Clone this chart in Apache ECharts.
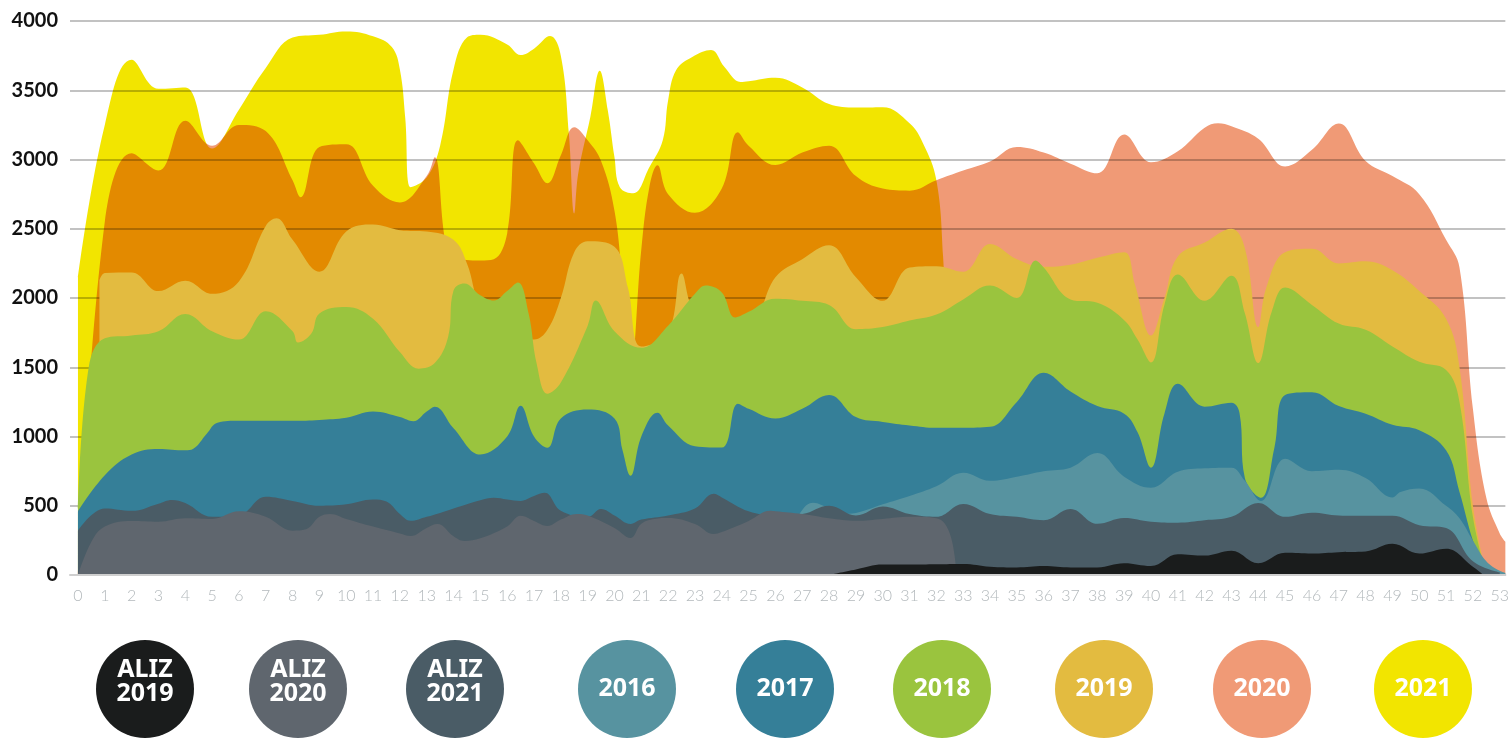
<!DOCTYPE html>
<html>
<head>
<meta charset="utf-8">
<script src="https://cdn.jsdelivr.net/npm/echarts@6/dist/echarts.min.js"></script>
<style>
html,body{margin:0;padding:0;background:#fff;}
#c{width:1512px;height:738px;}
</style>
</head>
<body>
<div id="c"></div>
<script>
// ---- categories / ticks ----
const weeks = Array.from({length: 54}, (_, i) => i);
const yTicks = [0, 500, 1000, 1500, 2000, 2500, 3000, 3500, 4000];
const legendNames = ['ALIZ 2019', 'ALIZ 2020', 'ALIZ 2021', '2016', '2017', '2018', '2019', '2020', '2021'];

// ---- series values: [week, value] ----
const s2021 = [[0,2150],[1,3250],[2,3720],[3,3510],[4,3520],[5,3080],[6,3360],[7,3660],[8,3880],[9,3900],[10,3925],[11,3890],[11.7,3812],[12,3650],[12.2,3300],[12.4,2800],[13,2870],[13.5,3100],[14,3650],[14.5,3880],[15,3900],[16,3830],[16.5,3754],[17,3800],[17.6,3891],[18,3750],[18.3,3190],[18.5,2611],[18.65,2900],[19.1,3306],[19.45,3640],[19.75,3356],[20,3016],[20.2,2800],[20.7,2756],[21.3,2944],[21.8,3139],[22,3428],[22.3,3646],[22.9,3740],[23.6,3790],[24.1,3667],[24.7,3560],[25,3565],[26,3590],[27,3520],[28,3400],[29,3375],[30,3378],[31,3262],[31.5,3118],[32,2850],[32.25,2300],[32.5,1200],[33,0]];
const s2020 = [[0,0],[1,2550],[2,3045],[3,2920],[4,3280],[5,3100],[6,3250],[7,3205],[8,2850],[8.3,2727],[9,3090],[10,3110],[11,2810],[12,2690],[13,2880],[13.3,3016],[13.7,2400],[14,2300],[15,2271],[15.5,2280],[16,2466],[16.4,3139],[17,2973],[17.5,2828],[18,3030],[18.5,3233],[19,3139],[19.5,2990],[20,2630],[20.3,2100],[20.6,1450],[21,2350],[21.3,2800],[21.6,2958],[22,2750],[23,2615],[24,2790],[24.6,3197],[25,3100],[26,2960],[27,3050],[28,3100],[29,2880],[30,2790],[31,2775],[32,2850],[33,2920],[34,2985],[35,3090],[36,3050],[37,2970],[38,2900],[39,3180],[40,2980],[41,3060],[42,3230],[42.5,3262],[43,3240],[44,3150],[45,2950],[46,3070],[47,3260],[48,2990],[49,2880],[50,2750],[51,2420],[51.5,2220],[52,1200],[52.5,557],[53,300],[53.21,240]];
const s2019 = [[0.8,2127],[1,2180],[2,2185],[3,2050],[4,2125],[5,2030],[6,2120],[7,2520],[7.4,2575],[8,2420],[9,2190],[10,2480],[11,2530],[12,2490],[13,2480],[14,2420],[14.5,2250],[15,1950],[16,1750],[17,1700],[17.5,1770],[18,2000],[18.5,2330],[19,2410],[20,2370],[20.5,2076],[21,1650],[22,1750],[22.5,2177],[23,1900],[24,1850],[25,1800],[26,2150],[27,2280],[28,2380],[29,2150],[30,1980],[31,2220],[32,2230],[33,2190],[34,2390],[35,2280],[36,2225],[37,2240],[38,2290],[39,2330],[39.4,2100],[40,1730],[40.5,2000],[41,2300],[42,2400],[43,2500],[43.5,2360],[44,1790],[44.3,2076],[45,2330],[46,2355],[47,2250],[48,2265],[49,2200],[50,2050],[51,1850],[51.5,1500],[52,500],[52.5,0]];
const s2018 = [[0,480],[0.4,1500],[1,1710],[2,1730],[3,1760],[4,1885],[5,1760],[6,1700],[7,1905],[8,1760],[8.2,1678],[8.7,1743],[9,1888],[10,1935],[11,1850],[12,1610],[12.7,1490],[13.3,1530],[13.8,1720],[14,2054],[14.4,2105],[15,2020],[15.5,1982],[16,2050],[16.4,2112],[16.8,1888],[17.1,1526],[17.5,1309],[18,1390],[19,1800],[19.3,1982],[20,1760],[21,1640],[22,1800],[23,2030],[23.4,2090],[24,2040],[24.5,1860],[25,1900],[26,1995],[27,1980],[28,1950],[29,1775],[30,1790],[31,1837],[32,1880],[33,1990],[34,2090],[35,2000],[35.7,2271],[36,2220],[37,1990],[38,1965],[39,1840],[39.5,1700],[40,1535],[40.5,1950],[41,2170],[42,1980],[43,2160],[43.5,1890],[44,1530],[44.5,1900],[45,2075],[46,1950],[47,1815],[48,1770],[49,1650],[50,1540],[51,1480],[51.5,1250],[52,420],[52.5,0]];
const s2017 = [[0,460],[1,720],[2,870],[3,910],[4,900],[4.3,911],[4.8,1020],[5.2,1100],[6,1114],[7,1114],[8,1114],[9,1120],[10,1135],[11,1180],[12,1140],[12.5,1110],[13,1180],[13.3,1215],[14,1060],[15,870],[16,1000],[16.5,1222],[17,1000],[17.5,919],[18,1130],[19,1195],[20,1130],[20.3,900],[20.6,716],[21,1000],[21.6,1172],[22,1080],[23,930],[24,920],[24.6,1237],[25,1200],[26,1130],[27,1200],[28,1300],[29,1140],[30,1105],[31,1080],[32,1063],[33,1063],[34,1070],[35,1250],[36,1460],[37,1325],[38,1220],[39,1165],[39.5,1030],[40,775],[40.5,1164],[41,1380],[42,1215],[43,1244],[43.3,1170],[43.5,700],[44.1,557],[44.6,919],[45,1300],[46,1320],[47,1220],[48,1165],[49,1085],[50,1045],[51,900],[51.5,600],[52,250],[52.5,0]];
const s2016 = [[26,250],[26.5,300],[27,470],[27.4,521],[28,480],[28.5,441],[29,448],[30,510],[31,570],[32,640],[33,738],[34,680],[35,710],[36,750],[37,775],[38,880],[39,710],[40,630],[41,745],[42,770],[43,775],[43.5,680],[44.1,535],[45,840],[46,750],[47,760],[48,700],[49,560],[49.3,600],[50,625],[51,500],[51.5,410],[52,250],[52.5,100],[53,30],[53.21,15]];
const sAliz21 = [[0,320],[1,480],[2,463],[3,515],[3.5,542],[4,520],[5,420],[6,430],[7,565],[8,535],[9,500],[10,510],[11,545],[11.5,530],[12,440],[12.4,391],[13,420],[13.5,448],[14,480],[15,540],[15.5,557],[16,545],[16.5,535],[17,570],[17.4,593],[18,463],[19,420],[19.5,477],[20,430],[20.6,369],[21,400],[22,430],[23,480],[23.7,586],[24,560],[25,460],[26,430],[27,440],[28,500],[29,430],[30,495],[31,440],[32,420],[33,513],[34,440],[35,420],[36,395],[37,477],[38,370],[39,412],[40,385],[41,378],[42,395],[43,420],[44,520],[45,420],[46,450],[47,430],[48,427],[49,427],[50,360],[51,340],[52,100],[53,20]];
const sAliz20 = [[0,0],[0.5,240],[1,350],[2,390],[3,385],[4,410],[5,405],[6,460],[7,420],[8,320],[8.5,330],[9,420],[9.4,441],[10,405],[11,350],[12,300],[12.4,282],[13,340],[13.4,369],[14,280],[14.4,246],[15,265],[16,350],[16.5,427],[17,390],[17.5,354],[18,400],[18.6,441],[19,430],[20,340],[20.6,268],[21,370],[21.5,405],[22,412],[23,369],[23.7,296],[24,310],[25,390],[25.8,463],[26,460],[27,440],[28,410],[29,392],[30,405],[31,420],[32,410],[32.5,300],[32.75,0]];
const sAliz19 = [[28,0],[29,40],[30,75],[31,75],[32,78],[33,80],[34,60],[35,55],[36,65],[37,55],[38,55],[39,85],[40,65],[41,150],[42,140],[43,175],[44,85],[45,160],[46,155],[47,165],[48,170],[49,225],[50,155],[51,190],[52,60],[52.4,0]];

// ---- styles ----
const colors = {
  'ALIZ 2019': '#1a1c1c', 'ALIZ 2020': '#5f666e', 'ALIZ 2021': '#4a5c66',
  '2016': '#5793a0', '2017': '#357f98', '2018': '#9ac43e',
  '2019': '#e3bb40', '2020': '#f09a76', '2021': '#f2e500'
};
const dataByName = {
  '2020': s2020, '2021': s2021, '2019': s2019, '2018': s2018, '2017': s2017,
  '2016': s2016, 'ALIZ 2021': sAliz21, 'ALIZ 2020': sAliz20, 'ALIZ 2019': sAliz19
};
const drawOrder = ['2020', '2021', '2019', '2018', '2017', '2016', 'ALIZ 2021', 'ALIZ 2020', 'ALIZ 2019'];
const legendCenters = [145, 298, 455, 627, 785, 942, 1104, 1262, 1423];

const chart = echarts.init(document.getElementById('c'), null, {renderer: 'canvas'});

const series = drawOrder.map((n, i) => ({
  name: n,
  type: 'line',
  data: dataByName[n],
  smooth: 0.4,
  symbol: 'none',
  showSymbol: false,
  silent: true,
  lineStyle: {width: 0, opacity: 0},
  areaStyle: {color: colors[n], opacity: 1},
  emphasis: {disabled: true},
  z: i < 2 ? i + 1 : i + 2
}));

const graphic = legendNames.map((n, i) => {
  const twoLine = n.indexOf('ALIZ') === 0;
  return {
    type: 'group',
    x: legendCenters[i],
    y: 689,
    silent: true,
    children: [
      {type: 'circle', shape: {cx: 0, cy: 0, r: 49}, style: {fill: colors[n]}},
      {type: 'text', x: 0, y: twoLine ? -7 : 0,
        style: {text: twoLine ? n.replace(' ', '\n') : n, fill: '#ffffff',
          fontSize: 25, fontWeight: 'bold', fontFamily: '"Noto Sans", sans-serif',
          lineHeight: 24, align: 'center', verticalAlign: 'middle',
          textAlign: 'center', textVerticalAlign: 'middle'}}
    ]
  };
});

const option = {
  animation: false,
  backgroundColor: '#ffffff',
  grid: {left: 70, right: 0, top: 21, bottom: 163, containLabel: false},
  xAxis: {
    type: 'value', min: -0.297, max: 53.21, z: 11,
    axisLine: {show: true, lineStyle: {color: '#cfcfcf', width: 2}},
    axisTick: {show: false},
    splitLine: {show: false},
    axisLabel: {
      customValues: weeks, color: '#b3b9bc', fontSize: 16,
      fontFamily: 'Lato, "Noto Sans", sans-serif', fontWeight: 300, margin: 13,
      formatter: v => String(Math.round(v))
    }
  },
  yAxis: {
    type: 'value', min: yTicks[0], max: yTicks[yTicks.length - 1], interval: 500, z: 3,
    axisLine: {show: false}, axisTick: {show: false},
    splitLine: {show: true, lineStyle: {color: 'rgba(0,0,0,0.24)', width: 2}},
    axisLabel: {color: '#111111', fontSize: 20, fontWeight: 'bold',
      fontFamily: 'Lato, "Noto Sans", sans-serif', margin: 12, padding: [0, 0, 10, 0],
      formatter: v => String(v)}
  },
  tooltip: {show: false},
  series: series,
  graphic: graphic
};

chart.setOption(option);

// the 2021 layer is multiplied over the 2020 layer (overlap shows as orange)
let blended = false;
function applyBlend() {
  if (blended) return;
  const zr = chart.getZr();
  const list = zr.storage.getDisplayList(true);
  list.forEach(el => {
    if (el.style && el.style.fill === colors['2021'] && el.shape && el.shape.points) {
      el.style.blend = 'multiply';
      el.markRedraw();
      blended = true;
    }
  });
  zr.refreshImmediately();
}
applyBlend();
chart.on('finished', applyBlend);
</script>
</body>
</html>
